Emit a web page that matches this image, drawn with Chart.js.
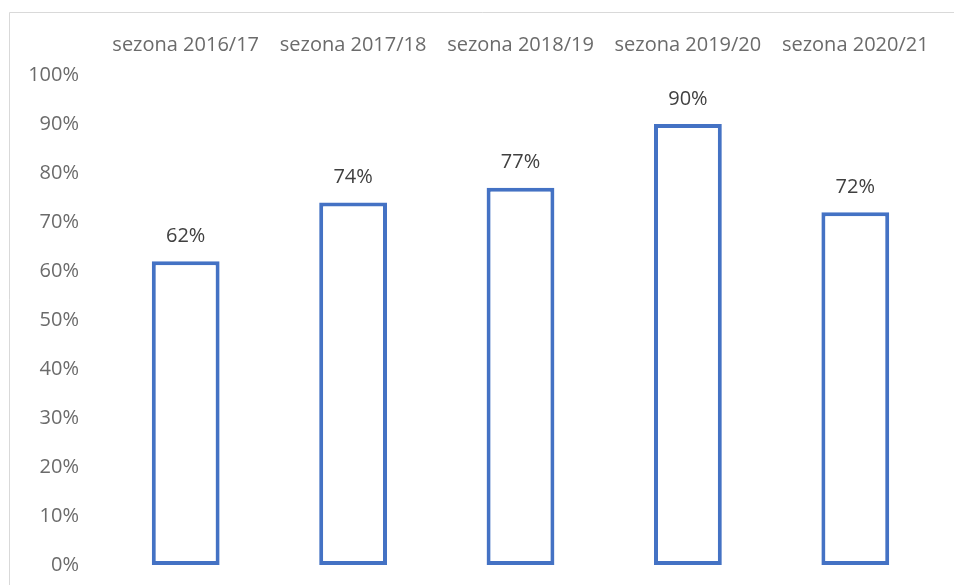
<!DOCTYPE html>
<html>
<head>
<meta charset="utf-8">
<script src="https://cdn.jsdelivr.net/npm/chart.js@4/dist/chart.umd.min.js"></script>
<style>
html,body{margin:0;padding:0;background:#fff;}
#wrap{position:relative;width:954px;height:585px;}
</style>
</head>
<body>
<div id="wrap"><canvas id="c" width="954" height="585"></canvas></div>
<script>
const categories = ['sezona 2016/17','sezona 2017/18','sezona 2018/19','sezona 2019/20','sezona 2020/21'];
const values = [62, 74, 77, 90, 72];
const yTicks = [0,10,20,30,40,50,60,70,80,90,100];

const FONT = '"Open Sans", sans-serif';

const framePlugin = {
  id: 'frame',
  beforeDraw(chart) {
    const ctx = chart.ctx;
    ctx.save();
    ctx.fillStyle = '#fff';
    ctx.fillRect(0,0,chart.width,chart.height);
    ctx.strokeStyle = '#d9d9d9';
    ctx.lineWidth = 1;
    ctx.beginPath();
    ctx.moveTo(9.5, chart.height + 2);
    ctx.lineTo(9.5, 12.5);
    ctx.lineTo(chart.width + 2, 12.5);
    ctx.stroke();
    ctx.restore();
  }
};

const labelPlugin = {
  id: 'vals',
  afterDatasetsDraw(chart) {
    const ctx = chart.ctx;
    const meta = chart.getDatasetMeta(0);
    ctx.save();
    ctx.fillStyle = '#404040';
    ctx.font = '20px ' + FONT;
    ctx.textAlign = 'center';
    ctx.textBaseline = 'middle';
    meta.data.forEach((bar, i) => {
      ctx.fillText(values[i] + '%', bar.x, bar.y - 25);
    });
    ctx.restore();
  }
};

new Chart(document.getElementById('c'), {
  type: 'bar',
  data: {
    labels: categories,
    datasets: [{
      data: values,
      backgroundColor: '#ffffff',
      borderColor: '#4472C4',
      borderWidth: 4,
      borderSkipped: false,
      categoryPercentage: 1,
      barPercentage: 0.405
    }]
  },
  options: {
    responsive: false,
    animation: false,
    devicePixelRatio: 1,
    layout: { padding: { left: 0, right: 15, top: 0, bottom: 20 } },
    plugins: { legend: { display: false }, tooltip: { enabled: false } },
    scales: {
      x: {
        position: 'top',
        grid: { display: false, drawTicks: false },
        border: { display: false },
        ticks: { color: '#6b6b6b', font: { family: FONT, size: 20 }, padding: 18, maxRotation: 0, autoSkip: false },
        afterFit(axis) { axis.height = 75; }
      },
      y: {
        min: 0, max: 100,
        grid: { display: false, drawTicks: true, tickLength: 23 },
        border: { display: false },
        afterBuildTicks(axis) { axis.ticks = yTicks.map(v => ({ value: v })); },
        ticks: { color: '#6b6b6b', font: { family: FONT, size: 20 }, padding: 0, callback: v => v + '%' },
        afterFit(axis) { axis.width = 102; }
      }
    }
  },
  plugins: [framePlugin, labelPlugin]
});
</script>
</body>
</html>
